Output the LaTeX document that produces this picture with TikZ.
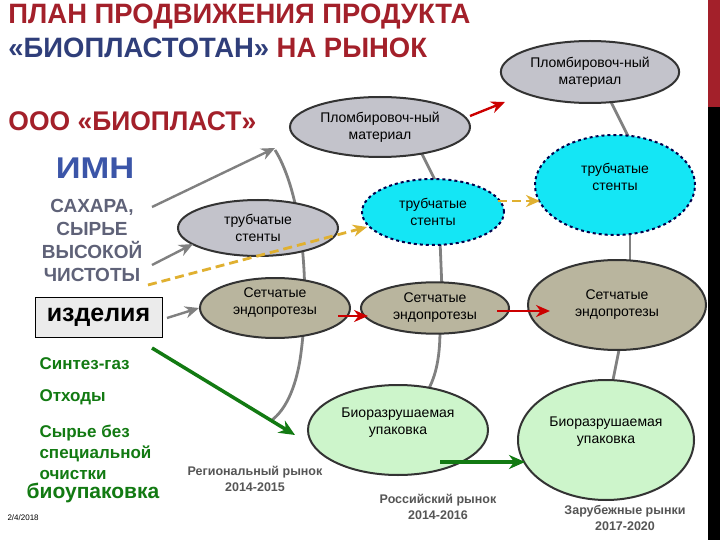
\documentclass[tikz,border=0pt]{standalone}
\usepackage{fontspec}
\setmainfont{Liberation Sans}
\usetikzlibrary{arrows.meta,shapes.geometric}
\definecolor{tred}{HTML}{A3202A}
\definecolor{tblue}{HTML}{2F3E7A}
\definecolor{imn}{HTML}{3B55A8}
\definecolor{sax}{HTML}{5F6278}
\definecolor{ell}{HTML}{C3C3CB}
\definecolor{khaki}{HTML}{B9B59E}
\definecolor{cy}{HTML}{14E6F5}
\definecolor{lg}{HTML}{CDF5CB}
\definecolor{gr}{HTML}{127A12}
\definecolor{yel}{HTML}{E0B030}
\definecolor{lnk}{HTML}{808080}
\definecolor{mk}{HTML}{555555}
\begin{document}
\begin{tikzpicture}[x=1pt,y=-1pt,
  el/.style={ellipse,draw=black!80,line width=2pt,align=center,font=\fontsize{14}{17}\selectfont},
  et/.style={font=\fontsize{14}{17}\selectfont,align=center},
  gl/.style={draw=lnk,line width=2.8pt},
  garr/.style={draw=lnk,line width=2.4pt,-{Stealth[length=14pt,width=12pt]}},
  rarr/.style={draw=red!80!black,line width=2.4pt,-{Stealth[length=14pt,width=12pt]}},
  yarr/.style={draw=yel,line width=2.8pt,dash pattern=on 9pt off 5pt,-{Stealth[length=14pt,width=12pt]}},
  grarr/.style={draw=gr,line width=3.5pt,-{Stealth[length=16pt,width=14pt]}},
  mkt/.style={text=mk,font=\bfseries\fontsize{12.5}{16}\selectfont,align=center},
  gtx/.style={text=gr,font=\bfseries\fontsize{17}{21}\selectfont,anchor=west}]
\useasboundingbox (0,0) rectangle (720,540);
\fill[white] (0,0) rectangle (720,540);
\fill[tred] (708,0) rectangle (720,107);
\fill[black] (708,107) rectangle (720,540);
% connector curves
\draw[gl] (275,150) .. controls (300,190) and (312,280) .. (300,360) .. controls (295,390) and (285,410) .. (272,420);
\draw[gl] (420,150) -- (440,190);
\draw[gl] (440,240) -- (442,290);
\draw[gl] (440,330) .. controls (440,360) and (435,380) .. (425,395);
\draw[gl] (610,100) -- (630,140);
\draw[gl] (630,230) -- (630,265);
\draw[gl] (620,345) -- (612,385);
% ellipses
\node[el,fill=ell,minimum width=180pt,minimum height=60pt] (p1) at (380,127) {Пломбировоч-ный\\материал};
\node[el,fill=ell,minimum width=174pt,minimum height=62pt] (p2) at (590,72) {Пломбировоч-ный\\материал};
\node[el,fill=ell,minimum width=160pt,minimum height=56pt] (t1) at (258,228) {трубчатые\\стенты};
\node[el,fill=cy,dashed,draw=black!70!blue,minimum width=142pt,minimum height=66pt] (t2) at (433,212) {трубчатые\\стенты};
\node[el,fill=cy,dashed,draw=black!70!blue,minimum width=160pt,minimum height=100pt] (t3) at (615,185) {};
\node[et] (t3t) at (615,177) {трубчатые\\стенты};
\node[el,fill=khaki,minimum width=150pt,minimum height=60pt] (s1) at (275,308) {};
\node[et] (s1t) at (275,303) {Сетчатые\\эндопротезы};
\node[el,fill=khaki,minimum width=148pt,minimum height=50pt] (s2) at (435,308) {Сетчатые\\эндопротезы};
\node[el,fill=khaki,minimum width=178pt,minimum height=90pt] (s3) at (617,305) {Сетчатые\\эндопротезы};
\node[el,fill=lg,minimum width=180pt,minimum height=90pt] (b1) at (398,430) {};
\node[et] (b1t) at (398,423) {Биоразрушаемая\\упаковка};
\node[el,fill=lg,minimum width=176pt,minimum height=120pt] (b2) at (606,440) {};
\node[et] (b2t) at (606,432) {Биоразрушаемая\\упаковка};
% titles
\node[anchor=west,text=tred,font=\bfseries\fontsize{28}{30}\selectfont,xscale=0.98] (h1) at (5,17) {ПЛАН ПРОДВИЖЕНИЯ ПРОДУКТА};
\node[anchor=west,font=\bfseries\fontsize{28}{30}\selectfont,xscale=0.98] (h2) at (5,48) {\textcolor{tblue}{«БИОПЛАСТОТАН»} \textcolor{tred}{НА РЫНОК}};
\node[anchor=west,text=tred,font=\bfseries\fontsize{27}{30}\selectfont,xscale=0.98] (ooo) at (5,121) {ООО «БИОПЛАСТ»};
\node[text=imn,font=\bfseries\fontsize{30}{30}\selectfont,xscale=1.15] (imn) at (95,168) {ИМН};
\node[text=sax,font=\bfseries\fontsize{19}{23}\selectfont,align=center] (sax) at (92,240) {САХАРА,\\СЫРЬЕ\\ВЫСОКОЙ\\ЧИСТОТЫ};
\node[draw=black,fill=black!8,line width=0.8pt,minimum width=127pt,minimum height=40pt,font=\bfseries\fontsize{25}{26}\selectfont] (izd) at (98.5,317) {изделия};
\node[gtx] (g1) at (36,364) {Синтез-газ};
\node[gtx] (g2) at (36,397) {Отходы};
\node[gtx,align=left] (g3) at (36,452) {Сырье без\\специальной\\очистки};
\node[text=gr,font=\bfseries\fontsize{21}{22}\selectfont] (bio) at (93,493) {биоупаковка};
\node[anchor=west,font=\fontsize{8}{9}\selectfont] (dt) at (4,518) {2/4/2018};
\node[mkt] (m1) at (255,479) {Региональный рынок\\2014-2015};
\node[mkt] (m2) at (438,507) {Российский рынок\\2014-2016};
\node[mkt] (m3) at (625,518) {Зарубежные рынки\\2017-2020};
% arrows
\coordinate (a1) at (152,207); \coordinate (a2) at (275,148);
\draw[garr] (a1) -- (a2);
\coordinate (a3) at (152,265); \coordinate (a4) at (193,244);
\draw[garr] (a3) -- (a4);
\coordinate (a5) at (167,318);
\draw[garr] (a5) -- (s1.west);
\coordinate (y1) at (148,285); \coordinate (y2) at (367,227);
\draw[yarr] (y1) -- (y2);
\coordinate (y3) at (498,201); \coordinate (y4) at (540,201);
\draw[yarr] (y3) -- (y4);
\coordinate (r3) at (338,316); \coordinate (r4) at (368,316);
\draw[rarr] (r3) -- (r4);
\coordinate (r5) at (497,311); \coordinate (r6) at (550,311);
\draw[rarr] (r5) -- (r6);
\coordinate (r1) at (470,116); \coordinate (r2) at (505,102);
\draw[rarr] (r1) -- (r2);
\coordinate (gg1) at (152,348); \coordinate (gg2) at (295,435);
\draw[grarr] (gg1) -- (gg2);
\coordinate (gb1) at (440,462); \coordinate (gb2) at (525,462);
\draw[grarr] (gb1) -- (gb2);
\end{tikzpicture}
\end{document}
